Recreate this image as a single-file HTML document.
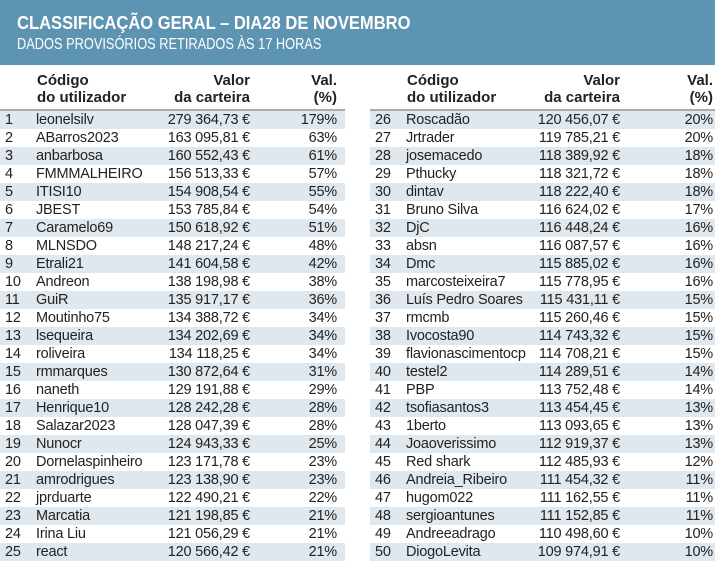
<!DOCTYPE html><html><head><meta charset="utf-8"><style>
body{margin:0;width:715px;height:561px;overflow:hidden;background:#fff;font-family:"Liberation Sans",sans-serif;color:#222;position:relative}
.hd{position:absolute;left:0;top:0;width:715px;height:65px;background:#5d94b2}
.t1{position:absolute;left:17px;top:13px;font-size:18px;line-height:20px;font-weight:bold;color:#fff;white-space:nowrap;transform:scaleX(0.92);transform-origin:0 0}
.t2{position:absolute;left:17px;top:36px;font-size:16px;line-height:18px;color:#fff;white-space:nowrap;transform:scaleX(0.8);transform-origin:0 0}
.tb{position:absolute;top:72px;width:345px}
.h{position:relative;height:37px;border-bottom:2px solid #aaa;font-size:15px;font-weight:bold;line-height:17px}
.h div{position:absolute;top:0}
.r{position:relative;height:18px;font-size:14.5px;line-height:18px;letter-spacing:-0.2px}
.r.s{background:#dfe7ef}
.r span{position:absolute;top:0;white-space:nowrap}
</style></head><body>
<div class="hd"><div class="t1">CLASSIFICAÇÃO GERAL – DIA28 DE NOVEMBRO</div><div class="t2">DADOS PROVISÓRIOS RETIRADOS ÀS 17 HORAS</div></div>
<div class="tb" id="L" style="left:0"></div>
<div class="tb" id="R" style="left:370px"></div>
<script>
var d=[["leonelsilv","279 364,73","179"],["ABarros2023","163 095,81","63"],["anbarbosa","160 552,43","61"],["FMMMALHEIRO","156 513,33","57"],["ITISI10","154 908,54","55"],["JBEST","153 785,84","54"],["Caramelo69","150 618,92","51"],["MLNSDO","148 217,24","48"],["Etrali21","141 604,58","42"],["Andreon","138 198,98","38"],["GuiR","135 917,17","36"],["Moutinho75","134 388,72","34"],["lsequeira","134 202,69","34"],["roliveira","134 118,25","34"],["rmmarques","130 872,64","31"],["naneth","129 191,88","29"],["Henrique10","128 242,28","28"],["Salazar2023","128 047,39","28"],["Nunocr","124 943,33","25"],["Dornelaspinheiro","123 171,78","23"],["amrodrigues","123 138,90","23"],["jprduarte","122 490,21","22"],["Marcatia","121 198,85","21"],["Irina Liu","121 056,29","21"],["react","120 566,42","21"],
["Roscadão","120 456,07","20"],["Jrtrader","119 785,21","20"],["josemacedo","118 389,92","18"],["Pthucky","118 321,72","18"],["dintav","118 222,40","18"],["Bruno Silva","116 624,02","17"],["DjC","116 448,24","16"],["absn","116 087,57","16"],["Dmc","115 885,02","16"],["marcosteixeira7","115 778,95","16"],["Luís Pedro Soares","115 431,11","15"],["rmcmb","115 260,46","15"],["Ivocosta90","114 743,32","15"],["flavionascimentocp","114 708,21","15"],["testel2","114 289,51","14"],["PBP","113 752,48","14"],["tsofiasantos3","113 454,45","13"],["1berto","113 093,65","13"],["Joaoverissimo","112 919,37","13"],["Red shark","112 485,93","12"],["Andreia_Ribeiro","111 454,32","11"],["hugom022","111 162,55","11"],["sergioantunes","111 152,85","11"],["Andreeadrago","110 498,60","10"],["DiogoLevita","109 974,91","10"]];
function mk(id,o,vr,pr){var h='<div class="h"><div style="left:37px">Código<br>do utilizador</div><div style="right:'+vr+'px;text-align:right">Valor<br>da carteira</div><div style="right:'+pr+'px;text-align:right">Val.<br>(%)</div></div>';
for(var i=0;i<25;i++){var r=d[o+i];h+='<div class="r'+(i%2?'':' s')+'"><span style="left:5px">'+(o+i+1)+'</span><span style="left:36px">'+r[0]+'</span><span style="right:'+vr+'px">'+r[1]+' €</span><span style="right:'+pr+'px">'+r[2]+'%</span></div>';}
document.getElementById(id).innerHTML=h;}
mk("L",0,95,8);mk("R",25,95,2);
</script>
</body></html>
